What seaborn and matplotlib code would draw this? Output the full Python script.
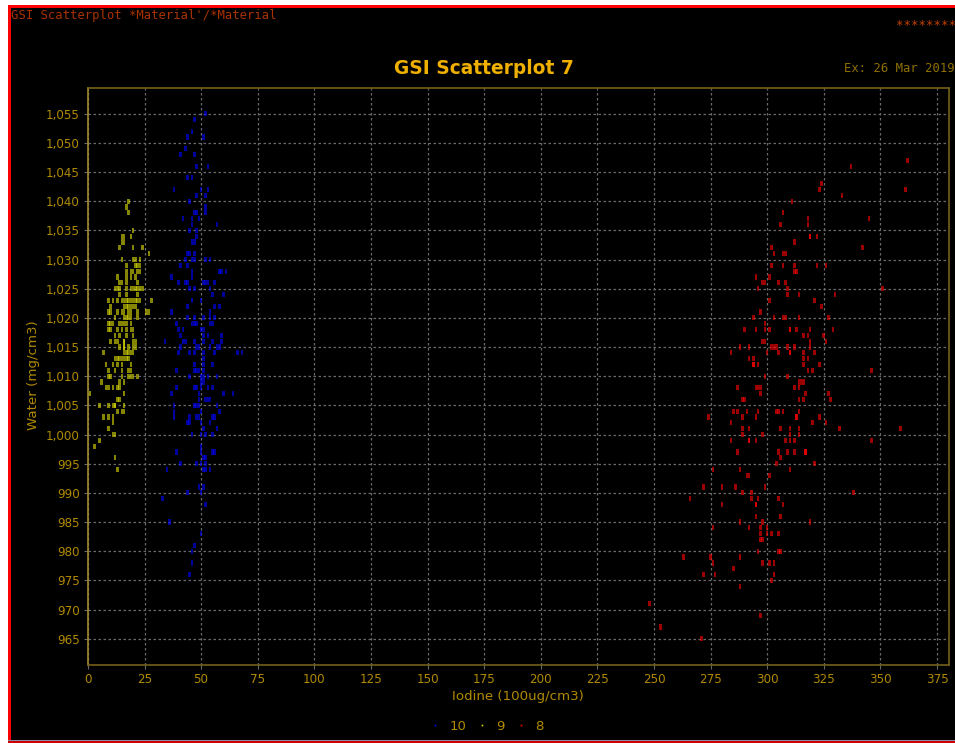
import pandas as pd
import matplotlib
matplotlib.use('Agg')
import matplotlib.pyplot as plt
from matplotlib.lines import Line2D
from matplotlib.patches import Rectangle
from matplotlib.path import Path
import seaborn as sns

W, H = 955, 743

# water value -> iodine values, one dict per material
red_rows = {
    1047: [362], 1046: [337], 1043: [324], 1042: [323, 361], 1041: [333], 1040: [311],
    1038: [307], 1037: [318, 345], 1036: [306, 318], 1034: [319, 319, 322], 1033: [312],
    1032: [302, 342], 1031: [303, 307, 308], 1029: [302, 307, 312, 322, 326],
    1028: [312, 313], 1027: [295, 301], 1026: [298, 299, 305, 308], 1025: [296, 309, 351],
    1024: [309, 314, 330], 1023: [301, 321], 1022: [324], 1021: [297],
    1020: [294, 303, 307, 308, 314, 327], 1019: [299],
    1018: [290, 295, 299, 301, 310, 310, 313, 319, 329], 1017: [316, 318, 325],
    1016: [298, 299, 319, 326], 1015: [288, 292, 302, 303, 304, 309, 312, 319],
    1014: [284, 300, 305, 310, 310, 316, 321], 1013: [292, 294, 316, 318],
    1012: [294, 294, 296, 316, 323], 1011: [318, 320, 346], 1010: [299, 309],
    1009: [314, 315, 316], 1008: [287, 295, 296, 297, 312, 314], 1007: [297, 317, 327],
    1006: [289, 290, 314, 316, 328], 1004: [285, 287, 291, 296, 304, 305, 307, 314],
    1003: [274, 289, 295, 313, 313, 323], 1002: [284, 320, 326],
    1001: [289, 292, 306, 310, 314, 332, 359], 1000: [289, 298, 310, 314],
    999: [284, 292, 292, 295, 308, 310, 312, 346], 997: [287, 305, 309, 312, 317, 317],
    996: [306], 995: [304, 321], 994: [276, 288, 310], 993: [291, 292, 301],
    991: [272, 280, 286, 299], 990: [289, 293, 338], 989: [266, 293, 296, 305],
    988: [280, 295, 295, 307], 986: [295, 306], 985: [288, 298, 319],
    984: [276, 292, 297, 300], 983: [297, 300, 302, 305], 982: [297, 298],
    980: [296, 305, 306], 979: [263, 275, 288], 978: [276, 298, 301, 303], 977: [285],
    976: [272, 277, 303], 975: [302], 974: [288], 971: [248], 969: [297], 967: [253],
    965: [271],
}

blue_rows = {
    1055: [52], 1054: [47], 1052: [46], 1051: [44, 51], 1049: [43], 1048: [41, 47],
    1046: [48, 53], 1044: [44, 46], 1042: [38, 50, 53], 1041: [48, 52], 1040: [45],
    1039: [52], 1038: [47, 48, 52], 1037: [42, 46, 49], 1036: [46, 57], 1035: [45, 48],
    1034: [48], 1033: [46, 47], 1031: [44, 45, 47], 1030: [43, 46, 47, 52, 54],
    1029: [41, 44], 1028: [46, 58, 59, 61], 1027: [37, 46],
    1026: [40, 43, 44, 51, 52, 53, 56], 1025: [45, 47, 54], 1024: [55, 60], 1023: [46, 50],
    1022: [44, 56, 58], 1021: [37, 54], 1020: [44, 47, 51, 54, 56],
    1019: [39, 46, 47, 48, 54, 55], 1018: [40, 42, 50, 51], 1017: [41, 51, 53, 59],
    1016: [34, 42, 43, 47, 51, 55, 59], 1015: [41, 48, 49, 54, 57, 58],
    1014: [40, 45, 47, 51, 56, 66, 68], 1013: [51], 1012: [47, 51, 55],
    1011: [39, 47, 48, 49, 51], 1010: [45, 50, 51, 53, 57], 1009: [50, 51],
    1008: [39, 47, 48, 50, 53, 55], 1007: [37, 49, 60, 64], 1006: [49, 52, 53, 54],
    1005: [38, 47, 48, 49, 57], 1004: [38, 50, 58], 1003: [38, 45, 48, 49, 55, 56],
    1002: [44, 45, 50, 54], 1001: [51, 57], 1000: [46, 50, 52, 55], 998: [50],
    997: [39, 50, 55, 56], 996: [51, 52], 995: [41, 48, 50, 52], 994: [35, 51, 52, 54],
    991: [49, 51], 990: [44, 50], 989: [33], 988: [52], 985: [36], 983: [50], 981: [47],
    980: [46], 978: [46], 976: [45],
}

yellow_rows = {
    1040: [18], 1039: [17], 1038: [18], 1035: [20], 1034: [15, 16, 19], 1033: [15, 16],
    1032: [14, 20, 24], 1031: [27], 1030: [15, 20, 21, 23], 1029: [17, 21, 22, 23],
    1028: [17, 19, 20, 22, 23], 1027: [13, 17, 19, 21], 1026: [14, 15, 17, 22],
    1025: [12, 13, 14, 17, 19, 20, 21, 22, 23, 24], 1024: [14, 17, 22],
    1023: [9, 11, 13, 15, 16, 17, 18, 19, 20, 21, 22, 23, 28],
    1022: [10, 16, 17, 18, 19, 20, 21], 1021: [9, 10, 13, 15, 16, 18, 19, 22, 26, 27],
    1020: [12, 16, 17, 18, 19, 22], 1019: [9, 10, 11, 14, 15, 16, 17, 19],
    1018: [9, 10, 13, 15, 17, 19, 20], 1017: [12, 14, 17, 20],
    1016: [10, 12, 13, 16, 16, 20, 21], 1015: [14, 16, 16, 18, 20, 21],
    1014: [7, 16, 17, 18, 19, 20], 1013: [12, 13, 14, 15, 16, 17, 18],
    1012: [8, 11, 13, 15, 19], 1011: [9, 12, 15, 18, 19], 1010: [9, 10, 15, 18, 19, 20, 22],
    1009: [6, 14, 16], 1008: [8, 9, 11, 13, 14], 1007: [1, 16], 1006: [13, 14],
    1005: [5, 9, 11, 12, 12, 16], 1004: [13, 15, 16], 1003: [7, 9, 11], 1002: [11],
    1001: [9], 1000: [11, 12], 999: [5], 998: [3], 996: [12], 994: [13],
}

material_labels = ['10', '9', '8']
material_colors = ['#0000ff', '#d8d800', '#ff0000']
x_ticks = list(range(0, 376, 25))
y_ticks = list(range(965, 1056, 5))

# 표 형태로 변환
rows = []
for label, table in zip(material_labels, [blue_rows, yellow_rows, red_rows]):
    for water, iodines in table.items():
        for iodine in iodines:
            rows.append({'iodine': iodine, 'water': water, 'material': label})
data = pd.DataFrame(rows)

GOLD = '#b08a00'
sns.set_theme(style='dark', rc={'axes.facecolor': 'black', 'figure.facecolor': 'black'})
plt.rcParams['font.family'] = ['DejaVu Sans']

fig = plt.figure(figsize=(W / 100, H / 100), dpi=100)
ax = fig.add_axes([87.9 / W, (H - 665) / H, (949 - 87.9) / W, (665 - 88) / H])

# 세로로 긴 작은 사각형 마커
tall_box = Path([(-0.5, -1), (0.5, -1), (0.5, 1), (-0.5, 1), (-0.5, -1)])
sns.scatterplot(data=data, x='iodine', y='water', hue='material',
                hue_order=material_labels, palette=material_colors,
                marker=tall_box, s=14, linewidth=0, alpha=0.62, legend=False,
                ax=ax, zorder=3)

ax.set_xlim(0, 380.3)
ax.set_ylim(960.5, 1059.4)
ax.set_xticks(x_ticks)
ax.set_yticks(y_ticks)
ax.yaxis.set_major_formatter('{x:,.0f}')
ax.grid(True, color='#6a6a6a', linewidth=0.9, linestyle=(0, (2, 2)))
ax.set_axisbelow(True)
ax.tick_params(length=3, width=0.8, color='#6a6a6a', labelcolor=GOLD, labelsize=8.6, pad=3,
               bottom=True, left=True)
ax.set_xlabel('Iodine (100ug/cm3)', color=GOLD, fontsize=9.6)
ax.xaxis.set_label_coords((518 - 87.9) / (949 - 87.9), (665 - 690) / (665 - 88), ax.transAxes)
ax.set_ylabel('Water (mg/cm3)', color=GOLD, fontsize=9.6)
ax.yaxis.set_label_coords((40 - 87.9) / (949 - 87.9), 0.503, ax.transAxes)
for side in ax.spines:
    ax.spines[side].set_visible(True)
    ax.spines[side].set_color('#75601a')
    ax.spines[side].set_linewidth(1.2)
ax.spines['left'].set_color('#a08a30')

# 범례
handles = [Line2D([], [], linestyle='none', marker='s', markersize=1.2, color=c,
                  markeredgewidth=0, label=l)
           for l, c in zip(material_labels, material_colors)]
fig.legend(handles=handles, ncol=3, frameon=False, loc='center',
           bbox_to_anchor=(487 / W, (H - 726) / H), labelcolor=GOLD, fontsize=9.5,
           handlelength=0.6, handletextpad=0.8, columnspacing=0.9)

# 제목과 머리글
fig.text(484 / W, (H - 68) / H, 'GSI Scatterplot 7', color='#f0b000', fontsize=13.4,
         fontweight='bold', ha='center', va='center')
fig.text(11 / W, (H - 15) / H, "GSI Scatterplot *Material'/*Material", color='#a83200',
         fontsize=8.85, family='DejaVu Sans Mono', va='center')
fig.text(895.5 / W, (H - 26) / H, '********', color='#c04000', fontsize=8.9,
         family='DejaVu Sans Mono', va='center')
fig.text(844 / W, (H - 68) / H, 'Ex: 26 Mar 2019', color='#8f7000', fontsize=8.8,
         family='DejaVu Sans Mono', va='center')

# 바깥 테두리
def frame_box(x0, y0, x1, y1, color):
    fig.add_artist(Rectangle((x0 / W, (H - y1) / H), (x1 - x0) / W, (y1 - y0) / H,
                             transform=fig.transFigure, facecolor=color, edgecolor='none'))

frame_box(0, 0, W, 5, 'white')
frame_box(0, 0, 8, H, 'white')
frame_box(8, 5, W, 8, '#ff0000')
frame_box(8, 5, 11, H, '#ff0000')
frame_box(8, 740, W, 741, '#8a8aa0')
frame_box(8, 741, W, 743, '#d00000')

fig.savefig('out.png', dpi=100, facecolor='black')
